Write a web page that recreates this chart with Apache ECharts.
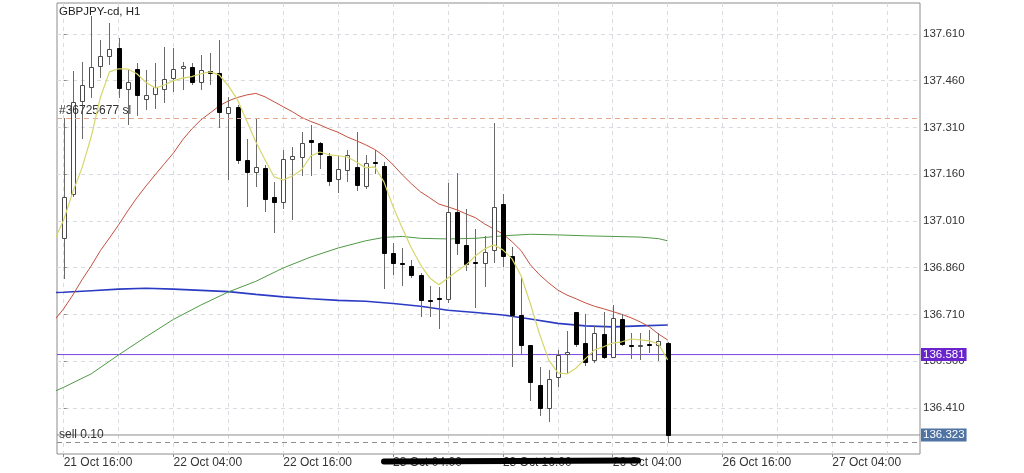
<!DOCTYPE html>
<html><head><meta charset="utf-8">
<script src="https://cdn.jsdelivr.net/npm/echarts@6/dist/echarts.min.js"></script>
<style>html,body{margin:0;padding:0;background:#fff}#c{width:1024px;height:473px}</style>
</head><body><div id="c"></div>
<script>
const chartTitle = 'GBPJPY-cd, H1';
const xTickIdx = [0, 12, 24, 36, 48, 60, 72, 84];
const xTickLabels = ['21 Oct 16:00', '22 Oct 04:00', '22 Oct 16:00', '23 Oct 04:00', '23 Oct 16:00', '26 Oct 04:00', '26 Oct 16:00', '27 Oct 04:00'];
const xGridIdx = [0, 6, 12, 18, 24, 30, 36, 42, 48, 54, 60, 66, 72, 78, 84, 90];
const yTicks = [136.41, 136.56, 136.71, 136.86, 137.01, 137.16, 137.31, 137.46, 137.61];

const candleOpen = [136.956,137.097,137.393,137.441,137.507,137.540,137.564,137.434,137.497,137.400,
 137.417,137.433,137.468,137.502,137.505,137.457,137.492,137.484,137.356,137.375,
 137.206,137.168,137.179,137.086,137.069,137.208,137.214,137.270,137.261,137.219,
 137.144,137.174,137.182,137.122,137.200,137.186,136.906,136.876,136.865,136.837,
 136.756,136.762,136.759,137.040,136.933,136.877,136.874,136.915,137.063,136.898,
 136.708,136.612,136.484,136.409,136.508,136.583,136.719,136.619,136.562,136.647,
 136.573,136.694,136.612,136.607,136.616,136.612,136.619];
const candleClose = [137.088,137.390,137.446,137.505,137.540,137.562,137.436,137.454,137.414,137.414,
 137.438,137.466,137.497,137.508,137.457,137.494,137.486,137.359,137.375,137.206,
 137.168,137.182,137.080,137.069,137.208,137.219,137.261,137.263,137.225,137.139,
 137.176,137.222,137.125,137.197,137.197,136.906,136.876,136.873,136.837,136.756,
 136.752,136.759,137.037,136.938,136.872,136.875,136.911,137.056,136.898,136.708,
 136.612,136.494,136.409,136.503,136.580,136.589,136.615,136.558,136.651,136.574,
 136.698,136.615,136.610,136.612,136.614,136.623,136.323];
const candleLow = [136.824,137.085,137.272,137.405,137.469,137.511,137.404,137.318,137.347,137.366,
 137.368,137.389,137.425,137.430,137.446,137.430,137.446,137.307,137.141,137.193,
 137.053,137.118,137.037,136.972,137.047,137.013,137.154,137.154,137.176,137.122,
 137.101,137.136,137.107,137.112,137.161,136.791,136.836,136.801,136.826,136.703,
 136.703,136.662,136.746,136.901,136.850,136.730,136.797,136.876,136.861,136.542,
 136.583,136.433,136.384,136.366,136.478,136.521,136.605,136.545,136.555,136.566,
 136.570,136.607,136.566,136.562,136.587,136.559,136.297];
const candleHigh = [137.340,137.491,137.521,137.666,137.591,137.646,137.596,137.494,137.516,137.494,
 137.518,137.567,137.564,137.521,137.516,137.543,137.548,137.589,137.407,137.382,
 137.272,137.336,137.190,137.136,137.238,137.248,137.296,137.318,137.264,137.227,
 137.219,137.238,137.296,137.222,137.238,137.200,136.940,136.922,136.885,136.842,
 136.801,136.799,137.131,137.163,137.047,136.983,136.962,137.325,137.097,136.927,
 136.833,136.612,136.542,136.532,136.596,136.658,136.719,136.711,136.673,136.719,
 136.740,136.711,136.651,136.651,136.660,136.649,136.622];

// moving averages (first value belongs to bar index -1)
const maFastStart = -1;
const maFast = [136.949,137.013,137.103,137.180,137.279,137.405,137.488,137.498,137.497,137.482,
 137.454,137.436,137.446,137.460,137.468,137.473,137.482,137.488,137.478,137.443,
 137.398,137.331,137.263,137.206,137.151,137.141,137.154,137.174,137.218,137.231,
 137.222,137.219,137.215,137.199,137.180,137.183,137.135,137.055,136.987,136.923,
 136.869,136.827,136.805,136.827,136.849,136.869,136.898,136.920,136.933,136.917,
 136.888,136.833,136.744,136.647,136.564,136.522,136.519,136.538,136.567,136.596,
 136.606,136.618,136.622,136.631,136.628,136.625,136.615,136.564];
const maMidStart = -1;
const maMid = [136.692,136.728,136.772,136.821,136.865,136.914,136.955,136.997,137.042,137.084,
 137.122,137.158,137.193,137.228,137.270,137.305,137.334,137.356,137.379,137.395,
 137.406,137.414,137.419,137.408,137.392,137.376,137.360,137.342,137.329,137.318,
 137.305,137.294,137.279,137.267,137.254,137.239,137.218,137.190,137.158,137.129,
 137.103,137.084,137.064,137.055,137.045,137.032,137.020,137.000,136.984,136.968,
 136.943,136.914,136.869,136.837,136.811,136.788,136.772,136.760,136.747,136.736,
 136.728,136.719,136.710,136.699,136.686,136.670,136.647,136.628];
const maSlowIdx = [-1,0,3,6,9,12,15,18,21,24,27,30,33,35,37,39,42,45,48,51,54,57,60,63,65,66];
const maSlow = [136.463,136.476,136.519,136.580,136.638,136.694,136.740,136.782,136.816,136.859,136.894,136.923,136.946,136.957,136.960,136.954,136.952,136.954,136.962,136.967,136.965,136.962,136.960,136.958,136.953,136.946];
const maLongIdx = [-1,0,3,6,9,12,15,18,21,24,27,30,33,36,39,42,45,48,51,54,57,60,63,66];
const maLong = [136.780,136.781,136.786,136.791,136.794,136.791,136.787,136.783,136.774,136.766,136.760,136.755,136.752,136.745,136.736,136.723,136.716,136.708,136.695,136.681,136.673,136.670,136.673,136.676];

const slLevel = 137.341, slText = '#36725677 sl';
const orderLevel = 136.300, orderText = 'sell 0.10';
const bidLevel = 136.323;
const alertLevel = 136.581;

const FONT = "'Liberation Sans', Arial, Helvetica, sans-serif";
const X_MIN = -0.73, X_MAX = 93.58, Y_MIN = 136.262, Y_MAX = 137.709;

const candleData = candleOpen.map((o, i) => [i, o, candleClose[i], candleLow[i], candleHigh[i]]);
const fastData = maFast.map((v, i) => [i + maFastStart, v]);
const midData = maMid.map((v, i) => [i + maMidStart, v]);
const slowData = maSlow.map((v, i) => [maSlowIdx[i], v]);
const longData = maLong.map((v, i) => [maLongIdx[i], v]);

function renderCandle(params, api) {
  const x = api.value(0), o = api.value(1), c = api.value(2), l = api.value(3), h = api.value(4);
  const pO = api.coord([x, o]), pC = api.coord([x, c]), pL = api.coord([x, l]), pH = api.coord([x, h]);
  const xw = Math.round(pO[0]) + 0.5;
  const top = Math.round(Math.min(pO[1], pC[1])), bot = Math.round(Math.max(pO[1], pC[1]));
  const bull = c >= o;
  return {
    type: 'group',
    children: [
      { type: 'line', shape: { x1: xw, y1: Math.round(pH[1]), x2: xw, y2: Math.round(pL[1]) }, style: { stroke: '#6a6a6a', lineWidth: 1 } },
      { type: 'rect', shape: { x: xw - 2, y: top + 0.5, width: 4, height: Math.max(bot - top, 1) },
        style: { fill: bull ? '#ffffff' : '#000000', stroke: bull ? '#4a4a4a' : '#000000', lineWidth: 1 } }
    ]
  };
}

function textLevel(value, color, label) {
  return {
    type: 'line', data: [], silent: true, z: 2,
    markLine: {
      silent: true, symbol: ['none', 'none'], animation: false,
      lineStyle: { color: color, type: [5, 4], width: 1 },
      label: label,
      data: [{ yAxis: value }]
    }
  };
}

function priceLevel(value, color, bg) {
  return {
    type: 'line', data: [[X_MIN, value], [X_MAX, value]], silent: true, z: 2, clip: false,
    showSymbol: false, symbol: 'none', color: color,
    lineStyle: { color: color, width: 1, type: 'solid' },
    endLabel: { show: true, distance: 1, formatter: () => value.toFixed(3), fontFamily: FONT, fontSize: 11.5,
      color: '#fff', backgroundColor: bg, padding: [1, 2, 0, 2] }
  };
}

const chart = echarts.init(document.getElementById('c'), null, { renderer: 'canvas' });
chart.setOption({
  animation: false,
  backgroundColor: '#ffffff',
  title: { text: chartTitle, left: 59, top: 6, padding: 0, textStyle: { fontFamily: FONT, fontSize: 11.5, fontWeight: 'normal', color: '#222' } },
  grid: { left: 57, right: 104, top: 3, bottom: 19, show: true, borderColor: '#8c8c8c', borderWidth: 1, backgroundColor: '#fff', containLabel: false, outerBoundsMode: 'none' },
  xAxis: [
    { type: 'value', min: X_MIN, max: X_MAX, position: 'bottom',
      axisLine: { show: false },
      axisTick: { show: true, length: 3, lineStyle: { color: '#8c8c8c' }, customValues: xTickIdx },
      axisLabel: { customValues: xTickIdx, align: 'left', margin: 3, fontFamily: FONT, fontSize: 12, color: '#333',
        formatter: v => { const i = xTickIdx.indexOf(Math.round(v)); return i >= 0 ? xTickLabels[i] : ''; } },
      splitLine: { show: false } },
    { type: 'value', min: X_MIN, max: X_MAX, position: 'bottom',
      axisLine: { show: false }, axisLabel: { show: false },
      axisTick: { show: false, customValues: xGridIdx },
      splitLine: { show: true, lineStyle: { color: '#d8dbe2', type: [4, 4], width: 1 } } }
  ],
  yAxis: {
    type: 'value', position: 'right', min: Y_MIN, max: Y_MAX, scale: true,
    axisLine: { show: false },
    axisTick: { show: true, length: 3, lineStyle: { color: '#8c8c8c' }, customValues: yTicks },
    axisLabel: { customValues: yTicks, margin: 3, fontFamily: FONT, fontSize: 11.5, color: '#333', formatter: v => v.toFixed(3) },
    splitLine: { show: true, lineStyle: { color: '#d8dbe2', type: [4, 4], width: 1 } }
  },
  series: [
    textLevel(slLevel, '#e4a68c',
      { show: true, position: 'insideStartTop', distance: [2, 1], formatter: slText, fontFamily: FONT, fontSize: 12, color: '#333' }),
    textLevel(orderLevel, '#8e8e8e',
      { show: true, position: 'insideStartTop', distance: [2, 1], formatter: orderText, fontFamily: FONT, fontSize: 12, color: '#333' }),
    priceLevel(bidLevel, '#8e8e8e', '#4f73a3'),
    priceLevel(alertLevel, '#7a44e0', '#6a24cc'),
    { type: 'line', name: 'ma200', data: longData, showSymbol: false, clip: true, lineStyle: { color: '#2b3bc4', width: 1.6 }, z: 3 },
    { type: 'line', name: 'ma100', data: slowData, showSymbol: false, clip: true, lineStyle: { color: '#4f9a45', width: 1 }, z: 3 },
    { type: 'line', name: 'ma21', data: midData, showSymbol: false, clip: true, lineStyle: { color: '#c4503e', width: 1 }, z: 3 },
    { type: 'custom', name: 'price', data: candleData, renderItem: renderCandle, clip: true,
      encode: { x: 0, y: [1, 2, 3, 4] }, z: 4 },
    { type: 'line', name: 'ma5', data: fastData, showSymbol: false, clip: true, lineStyle: { color: '#d6d66c', width: 1.2 }, z: 5 }
  ],
  graphic: [
    { type: 'line', z: 100, shape: { x1: 384, y1: 461.5, x2: 638, y2: 460.5 }, style: { stroke: '#000', lineWidth: 6, lineCap: 'round' } }
  ]
});
</script></body></html>
